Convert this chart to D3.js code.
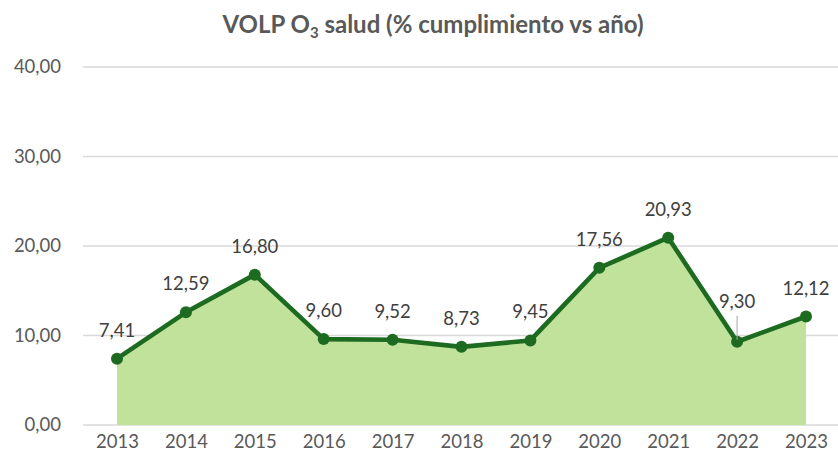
<!DOCTYPE html>
<html><head><meta charset="utf-8">
<script src="https://cdn.jsdelivr.net/npm/d3@7"></script>
<style>body{margin:0;background:#fff;}svg{display:block;font-family:Lato,"Open Sans",sans-serif;}</style>
</head><body>
<svg id="c" width="838" height="465"></svg>
<script>
const years = ["2013","2014","2015","2016","2017","2018","2019","2020","2021","2022","2023"];
const values = [7.41,12.59,16.80,9.60,9.52,8.73,9.45,17.56,20.93,9.30,12.12];
const yTicks = [0,10,20,30,40];
const fmt = v => d3.format(".2f")(v).replace(".", ",");

const svg = d3.select("#c");
const x = d3.scalePoint().domain(years).range([117, 806]);
const y = d3.scaleLinear().domain([0, 40]).range([425, 67]);

// gridlines
svg.append("g").selectAll("line").data(yTicks).join("line")
  .attr("x1", 83).attr("x2", 838)
  .attr("y1", d => y(d)).attr("y2", d => y(d))
  .attr("stroke", "#d9d9d9").attr("stroke-width", 1.3);

// area
svg.append("path").datum(values)
  .attr("fill", "#c0e29b")
  .attr("d", d3.area().x((d,i)=>x(years[i])).y0(y(0)).y1(d=>y(d)));

// y axis labels
const yAxis = d3.axisLeft(y).tickValues(yTicks).tickFormat(fmt).tickSize(0).tickPadding(0);
const ga = svg.append("g").attr("transform", "translate(61,0)").call(yAxis);
ga.select(".domain").remove();
ga.selectAll("text").attr("font-size", 18.5).attr("fill", "#595959").attr("font-family", "Lato,'Open Sans',sans-serif");

// x axis labels
const xAxis = d3.axisBottom(x).tickSize(0).tickPadding(0);
const gx = svg.append("g").attr("transform", "translate(0,435)").call(xAxis);
gx.select(".domain").remove();
gx.selectAll("text").attr("font-size", 18.5).attr("fill", "#595959").attr("font-family", "Lato,'Open Sans',sans-serif");

// line
svg.append("path").datum(values)
  .attr("fill", "none").attr("stroke", "#1d6b20").attr("stroke-width", 4.6)
  .attr("stroke-linejoin", "round")
  .attr("d", d3.line().x((d,i)=>x(years[i])).y(d=>y(d)));

// markers
svg.append("g").selectAll("circle").data(values).join("circle")
  .attr("cx", (d,i)=>x(years[i])).attr("cy", d=>y(d)).attr("r", 6)
  .attr("fill", "#1d6b20");

// leader line for 2022
const i22 = years.indexOf("2022");
svg.append("line")
  .attr("x1", x(years[i22])).attr("x2", x(years[i22]))
  .attr("y1", y(values[i22]) - 26).attr("y2", y(values[i22]) - 2)
  .attr("stroke", "#a6a6a6").attr("stroke-width", 1);

// data labels
svg.append("g").selectAll("text").data(values).join("text")
  .attr("x", (d,i)=>x(years[i]))
  .attr("y", (d,i)=> y(d) - (i === i22 ? 34 : 22))
  .attr("text-anchor", "middle")
  .attr("font-size", 18.5).attr("fill", "#404040")
  .text(d => fmt(d));

// title
const t = svg.append("text").attr("x", 433).attr("y", 33).attr("text-anchor", "middle")
  .attr("font-size", 24).attr("font-weight", "bold").attr("fill", "#595959");
t.append("tspan").text("VOLP O");
t.append("tspan").attr("font-size", 15).attr("dy", 5).text("3");
t.append("tspan").attr("dy", -5).text(" salud (% cumplimiento vs año)");
</script>
</body></html>
